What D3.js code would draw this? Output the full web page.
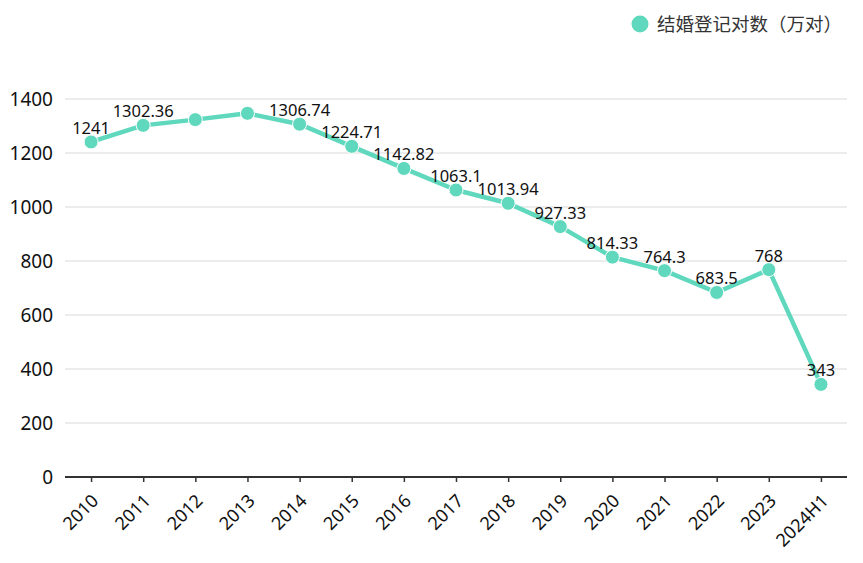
<!DOCTYPE html>
<html><head><meta charset="utf-8">
<script src="https://cdn.jsdelivr.net/npm/d3@7"></script>
<style>body{margin:0;background:#fff;} svg{display:block;font-family:"Noto Sans","Noto Sans CJK SC",sans-serif;}</style>
</head><body>
<svg id="c" width="863" height="563"></svg>
<script>
const categories = ["2010","2011","2012","2013","2014","2015","2016","2017","2018","2019","2020","2021","2022","2023","2024H1"];
const values = [1241,1302.36,1323.59,1346.93,1306.74,1224.71,1142.82,1063.1,1013.94,927.33,814.33,764.3,683.5,768,343];
const showLabel = [true,true,false,false,true,true,true,true,true,true,true,true,true,true,true];
const yTicks = [0,200,400,600,800,1000,1200,1400];
const seriesName = "结婚登记对数（万对）";
const color = "#5fd8bd";

const svg = d3.select("#c");
const L = 65, R = 847, T = 99, B = 477;
const x = d3.scalePoint().domain(categories).range([L, R]).padding(0.5);
const y = d3.scaleLinear().domain([0,1400]).range([B, T]);

// gridlines
svg.append("g").selectAll("line").data(yTicks.filter(d=>d>0)).join("line")
  .attr("x1", L).attr("x2", R).attr("y1", d=>y(d)).attr("y2", d=>y(d))
  .attr("stroke", "#d9d9d9").attr("stroke-width", 1);

// y axis labels
const ya = svg.append("g").attr("transform", `translate(${L},0)`)
  .call(d3.axisLeft(y).tickValues(yTicks).tickFormat(d3.format("d")).tickSize(0).tickPadding(12));
ya.select(".domain").remove();
ya.selectAll("text").attr("font-size", 19).attr("fill", "#111").attr("font-family", "Noto Sans");

// x axis
const xa = svg.append("g").attr("transform", `translate(0,${B})`)
  .call(d3.axisBottom(x).tickSize(5).tickPadding(6).tickSizeOuter(0));
xa.select(".domain").attr("stroke", "#333").attr("stroke-width", 2).attr("d", `M${L},0H${R}`);
xa.selectAll(".tick line").attr("stroke", "#333").attr("stroke-width", 1.5);
xa.selectAll("text").attr("font-size", 18).attr("fill", "#111").attr("font-family", "Noto Sans")
  .attr("text-anchor", "end").attr("y", 0).attr("dy", "0")
  .attr("transform", "translate(8,25) rotate(-45)");

// line
svg.append("path").datum(values)
  .attr("d", d3.line().x((d,i)=>x(categories[i])).y(d=>y(d)))
  .attr("fill", "none").attr("stroke", color).attr("stroke-width", 4.5).attr("stroke-linejoin", "round");

// points
svg.append("g").selectAll("circle").data(values).join("circle")
  .attr("cx", (d,i)=>x(categories[i])).attr("cy", d=>y(d)).attr("r", 7)
  .attr("fill", color).attr("stroke", "#fff").attr("stroke-width", 1);

// labels
svg.append("g").selectAll("text").data(values.map((v,i)=>({v,i})).filter(d=>showLabel[d.i])).join("text")
  .attr("x", d=>x(categories[d.i])).attr("y", d=>y(d.v)-8)
  .attr("text-anchor", "middle").attr("font-size", 16.5).attr("fill", "#111")
  .attr("font-family", "Noto Sans")
  .text(d=>String(d.v));

// legend
const lg = svg.append("g");
lg.append("circle").attr("cx", 640).attr("cy", 24).attr("r", 8.5).attr("fill", color);
lg.append("text").attr("x", 657).attr("y", 31).attr("font-size", 18.5).attr("fill", "#333")
  .attr("font-family", "Noto Sans CJK SC").text(seriesName);
</script>
</body></html>
